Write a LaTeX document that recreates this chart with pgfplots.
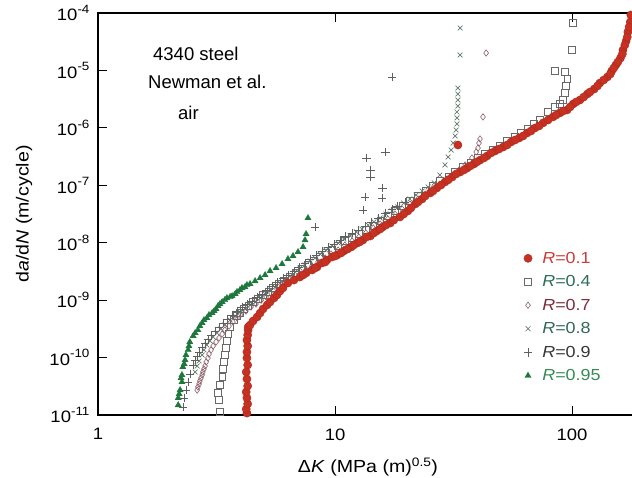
\documentclass[border=0pt]{standalone}
\usepackage{fontspec}
\setmainfont{Liberation Sans}
\newfontfamily\wide{Liberation Sans}[FakeStretch=1.12]
\usepackage{pgfplots}
\pgfplotsset{compat=1.18}
\newcommand\sci[1]{10\raisebox{0.45em}{\fontsize{12}{12}\selectfont #1}}
\definecolor{cRed}{RGB}{200,48,34}
\definecolor{cRedD}{RGB}{165,45,30}
\definecolor{cSq}{RGB}{105,105,105}
\definecolor{cDia}{RGB}{140,95,105}
\definecolor{cX}{RGB}{95,120,105}
\definecolor{cPlus}{RGB}{95,95,95}
\definecolor{cTri}{RGB}{30,120,60}
\definecolor{tRed}{RGB}{205,60,60}
\definecolor{tSq}{RGB}{45,110,90}
\definecolor{tDia}{RGB}{125,45,60}
\definecolor{tX}{RGB}{50,105,85}
\definecolor{tPlus}{RGB}{55,55,55}
\definecolor{tTri}{RGB}{55,140,85}
\pgfplotsset{
  sR1/.style={only marks, mark=*, mark size=4.1pt, mark options={fill=cRed, draw=cRedD, line width=0.4pt}},
  sR4/.style={only marks, mark=square, mark size=3.3pt, mark options={draw=cSq, line width=0.6pt}},
  sR7/.style={only marks, mark=diamond, mark size=3.2pt, mark options={draw=cDia, line width=0.6pt}},
  sR8/.style={only marks, mark=x, mark size=3.4pt, mark options={draw=cX, line width=0.7pt}},
  sR9/.style={only marks, mark=+, mark size=4.3pt, mark options={draw=cPlus, line width=0.6pt}},
  sR95/.style={only marks, mark=triangle*, mark size=3.6pt, mark options={fill=cTri, draw=cTri, line width=0.3pt}},
}
\begin{document}
\begin{tikzpicture}
\useasboundingbox (-98pt,-62pt) rectangle (534pt,415pt);
\begin{axis}[
  scale only axis, width=545.4pt, height=402pt,
  xmode=log, ymode=log,
  xmin=1, xmax=200, ymin=1e-11, ymax=1e-4,
  xtick={1,10,100}, xticklabels={1,10,100},
  ytick={1e-11,1e-10,1e-9,1e-8,1e-7,1e-6,1e-5,1e-4},
  yticklabels={\sci{-11},\sci{-10},\sci{-9},\sci{-8},\sci{-7},\sci{-6},\sci{-5},\sci{-4}},
  xminorticks=false, yminorticks=false,
  tick align=inside, major tick length=9.5pt,
  every tick/.style={black, line width=0.8pt},
  axis line style={line width=2.1pt},
  ticklabel style={font=\wide\fontsize{16.5}{20}\selectfont},
  xticklabel style={yshift=-10pt},
  yticklabel style={xshift=-5pt},
  xlabel={Δ\textit{K} (MPa (m)\textsuperscript{0.5})},
  ylabel={d\textit{a}/d\textit{N} (m/cycle)},
  every axis x label/.style={at={(rel axis cs:0.495,-0.1294)}, anchor=center},
  every axis y label/.style={at={(rel axis cs:-0.1357,0.5)}, rotate=90, anchor=center},
  label style={font=\wide\fontsize{17.5}{21}\selectfont},
  legend style={at={(rel axis cs:0.7747,0.416)}, anchor=north west, draw=none, fill=none,
    font=\wide\fontsize{16}{19}\selectfont, row sep=6.8pt},
  legend cell align=left,
]
\addlegendimage{sR1}\addlegendentry{\hspace*{8pt}\textcolor{tRed}{\textit{R}=0.1}}
\addlegendimage{sR4}\addlegendentry{\hspace*{8pt}\textcolor{tSq}{\textit{R}=0.4}}
\addlegendimage{sR7}\addlegendentry{\hspace*{8pt}\textcolor{tDia}{\textit{R}=0.7}}
\addlegendimage{sR8}\addlegendentry{\hspace*{8pt}\textcolor{tX}{\textit{R}=0.8}}
\addlegendimage{sR9}\addlegendentry{\hspace*{8pt}\textcolor{tPlus}{\textit{R}=0.9}}
\addlegendimage{sR95}\addlegendentry{\hspace*{8pt}\textcolor{tTri}{\textit{R}=0.95}}

% R = 0.4
\addplot[sR4, forget plot] coordinates {
(3.27,1.13e-11)(3.24,1.82e-11)(3.21,2.41e-11)(3.27,3.33e-11)(3.34,4.58e-11)(3.37,6.32e-11)
(3.40,8.38e-11)(3.43,1.11e-10)(3.47,1.47e-10)(3.50,1.95e-10)(3.54,2.57e-10)(3.61,3.40e-10)
(3.75,4.51e-10)(3.97,5.97e-10)(4.30,7.91e-10)(4.73,1.05e-9)(5.22,1.39e-9)(5.80,1.91e-9)
(6.46,2.53e-9)(7.26,3.48e-9)(8.15,4.80e-9)(9.16,6.62e-9)(10.3,8.77e-9)(11.8,1.21e-8)
(13.5,1.66e-8)(15.5,2.39e-8)(17.9,3.57e-8)(20.7,5.32e-8)(24.0,7.95e-8)(27.7,1.19e-7)
(32.1,1.70e-7)(37.2,2.44e-7)(42.9,3.51e-7)(49.7,4.83e-7)(57.4,6.93e-7)(65.2,9.55e-7)
(73.3,1.37e-6)(79.2,1.89e-6)(84.8,2.31e-6)(88.9,2.60e-6)(91.6,3.06e-6)(93.3,4.05e-6)
(94.3,5.35e-6)(95.3,7.10e-6)(93.3,9.40e-6)(84.8,9.77e-6)(100,2.27e-5)(101,6.70e-5)
(3.86,5.29e-10)(4.13,7.02e-10)(4.51,9.29e-10)(4.97,1.23e-9)(5.47,1.63e-9)(6.09,2.15e-9)
(6.84,2.96e-9)(7.69,4.09e-9)(8.65,5.64e-9)(9.71,7.46e-9)(11.0,1.07e-8)(12.6,1.42e-8)
(14.5,1.95e-8)(16.7,2.92e-8)(19.2,4.36e-8)(22.4,6.50e-8)(25.7,9.72e-8)(30.0,1.39e-7)
(34.4,2.08e-7)(40.1,2.99e-7)(46.0,4.11e-7)(53.2,5.90e-7)(60.9,8.14e-7)(69.1,1.17e-6)
};
% R = 0.7
\addplot[sR7, forget plot] coordinates {
(2.62,2.72e-11)(2.67,3.47e-11)(2.72,4.41e-11)(2.77,5.61e-11)(2.83,7.14e-11)(2.91,9.82e-11)
(3.00,1.36e-10)(3.15,1.87e-10)(3.34,2.57e-10)(3.57,3.55e-10)(3.86,4.89e-10)(4.21,6.47e-10)
(4.64,8.57e-10)(5.12,1.14e-9)(5.69,1.56e-9)(6.33,2.07e-9)(7.11,2.85e-9)(8.00,3.93e-9)
(9.08,5.42e-9)(10.3,7.46e-9)(11.8,1.07e-8)(13.5,1.48e-8)(15.5,2.12e-8)(17.9,3.16e-8)
(20.7,4.72e-8)(24.0,7.05e-8)(27.7,1.05e-7)(31.5,1.51e-7)(35.4,2.26e-7)(37.8,2.99e-7)
(39.4,3.80e-7)(40.1,4.46e-7)(40.5,5.45e-7)(40.9,6.40e-7)(42.1,1.55e-6)(43.4,2.01e-5)
(2.64,3.07e-11)(2.69,3.91e-11)(2.75,4.97e-11)(2.80,6.32e-11)(2.86,8.38e-11)(2.94,1.15e-10)
(3.06,1.59e-10)(3.24,2.19e-10)(3.43,3.02e-10)(3.71,4.16e-10)(4.01,5.74e-10)(4.42,7.60e-10)
(4.88,1.00e-9)(5.37,1.33e-9)(5.98,1.84e-9)(6.71,2.43e-9)(7.55,3.35e-9)(8.48,4.61e-9)
(9.62,6.35e-9)(11.0,9.12e-9)(12.6,1.26e-8)(14.5,1.80e-8)(16.7,2.59e-8)(19.2,3.86e-8)
(22.4,5.77e-8)(25.7,8.61e-8)(29.7,1.29e-7)(33.4,1.85e-7)
};
% R = 0.8
\addplot[sR8, forget plot] coordinates {
(2.57,5.61e-11)(2.67,8.72e-11)(2.80,1.36e-10)(2.97,1.95e-10)(3.18,2.68e-10)(3.43,3.69e-10)
(3.79,5.29e-10)(4.17,7.02e-10)(4.60,9.29e-10)(5.07,1.28e-9)(5.58,1.69e-9)(6.15,2.24e-9)
(6.78,3.09e-9)(7.47,4.09e-9)(8.24,5.42e-9)(9.16,7.46e-9)(10.3,9.89e-9)(11.6,1.31e-8)
(13.0,1.73e-8)(14.6,2.30e-8)(16.4,3.16e-8)(18.4,4.19e-8)(20.7,5.77e-8)(23.3,7.95e-8)
(26.2,1.10e-7)(27.7,1.51e-7)(29.1,2.26e-7)(30.0,3.11e-7)(30.9,4.11e-7)(31.5,5.45e-7)
(32.1,7.21e-7)(32.4,9.18e-7)(32.7,1.17e-6)(32.7,1.49e-6)(32.7,1.89e-6)(33.0,2.40e-6)
(33.0,3.06e-6)(33.0,3.89e-6)(33.0,4.94e-6)(33.7,1.86e-5)(33.7,5.48e-5)
(2.62,7.14e-11)(2.75,1.11e-10)(2.88,1.66e-10)(3.06,2.28e-10)(3.30,3.14e-10)(3.61,4.51e-10)
(3.97,6.21e-10)(4.38,8.22e-10)(4.83,1.09e-9)(5.32,1.50e-9)(5.86,1.99e-9)(6.46,2.63e-9)
(7.11,3.63e-9)(7.85,4.80e-9)(8.65,6.35e-9)(9.71,8.77e-9)(10.9,1.16e-8)(12.3,1.54e-8)
(13.8,2.03e-8)(15.5,2.69e-8)(17.4,3.57e-8)(19.5,4.91e-8)(22.0,6.77e-8)(24.7,9.33e-8)
};
% R = 0.9
\addplot[sR9, forget plot] coordinates {
(2.28,1.38e-11)(2.31,1.98e-11)(2.35,2.72e-11)(2.40,3.76e-11)(2.44,5.18e-11)(2.52,7.43e-11)
(2.62,1.06e-10)(2.75,1.53e-10)(2.91,2.10e-10)(3.12,2.90e-10)(3.37,4.00e-10)(3.68,5.51e-10)
(4.05,7.60e-10)(4.47,9.66e-10)(4.92,1.28e-9)(5.42,1.76e-9)(6.03,2.43e-9)(6.71,3.21e-9)
(7.47,4.43e-9)(8.32,6.11e-9)(9.34,8.42e-9)(10.5,1.11e-8)(11.8,1.48e-8)(13.4,1.95e-8)
(15.2,2.69e-8)(17.4,3.86e-8)(19.7,5.12e-8)
(2.57,9.08e-11)(2.67,1.25e-10)(2.83,1.79e-10)(3.00,2.47e-10)(3.24,3.40e-10)(3.50,4.70e-10)
(3.86,6.47e-10)(4.25,8.57e-10)(4.69,1.14e-9)(5.17,1.50e-9)(5.69,2.07e-9)(6.33,2.74e-9)
(7.05,3.78e-9)(7.85,5.20e-9)(8.81,7.18e-9)(9.90,9.50e-9)(11.1,1.31e-8)(12.5,1.66e-8)
(14.2,2.30e-8)(16.3,3.29e-8)(18.4,4.36e-8)
(8.24,1.88e-8)(13.1,3.72e-8)(13.4,6.25e-8)(15.8,6.01e-8)(15.9,8.97e-8)(14.1,1.39e-7)
(14.1,1.85e-7)(13.6,2.99e-7)(16.3,3.80e-7)(17.4,7.69e-6)
};
% R = 0.95
\addplot[sR95, forget plot] coordinates {
(2.18,1.49e-11)(2.18,1.98e-11)(2.22,2.72e-11)(2.26,3.76e-11)(2.26,4.98e-11)(2.28,6.86e-11)
(2.33,9.08e-11)(2.40,1.36e-10)(2.44,1.87e-10)(2.52,2.38e-10)(2.64,3.02e-10)(2.75,4.00e-10)
(2.88,4.89e-10)(3.03,5.97e-10)(3.15,7.02e-10)(3.27,8.57e-10)(3.43,1.01e-9)(3.61,1.14e-9)
(3.79,1.28e-9)(3.97,1.50e-9)(4.17,1.69e-9)(4.38,1.91e-9)(4.60,2.15e-9)(4.83,2.43e-9)
(5.07,2.74e-9)(5.32,3.22e-9)(5.64,3.63e-9)(5.98,4.26e-9)(6.33,5.21e-9)(6.65,5.87e-9)
(6.98,6.89e-9)(7.33,8.42e-9)(7.47,1.11e-8)(7.55,1.42e-8)(7.69,2.69e-8)
(2.20,2.32e-11)(2.24,4.41e-11)(2.31,7.73e-11)(2.35,1.11e-10)(2.42,1.59e-10)(2.57,2.68e-10)
(2.69,3.55e-10)(2.80,4.51e-10)(2.94,5.51e-10)(3.09,6.47e-10)(3.21,7.91e-10)(3.34,9.29e-10)
(3.50,1.09e-9)(3.68,1.18e-9)(3.86,1.39e-9)(4.05,1.63e-9)(4.25,1.84e-9)
};
% R = 0.1
\addplot[sR1, forget plot] coordinates {
(4.25,1.08e-11)(4.22,1.27e-11)(4.28,1.56e-11)(4.25,1.98e-11)(4.22,2.52e-11)(4.28,3.20e-11)
(4.25,4.24e-11)(4.22,5.61e-11)(4.28,7.43e-11)(4.25,9.84e-11)(4.25,1.25e-10)(4.28,1.59e-10)
(4.25,2.02e-10)(4.28,2.47e-10)(4.30,3.02e-10)(4.30,3.40e-10)
(4.38,3.69e-10)(4.51,4.34e-10)(4.69,5.09e-10)(4.83,5.97e-10)(4.97,7.02e-10)(5.17,8.24e-10)
(5.32,9.29e-10)(5.53,1.09e-9)(5.69,1.23e-9)(5.86,1.44e-9)(6.03,1.63e-9)(6.33,1.99e-9)
(6.71,2.24e-9)(7.11,2.53e-9)(7.55,2.97e-9)(8.00,3.35e-9)(8.40,3.78e-9)(8.81,4.44e-9)
(9.25,5.00e-9)(9.71,5.64e-9)(10.2,6.11e-9)(10.9,7.18e-9)(11.7,8.42e-9)(12.4,9.89e-9)
(13.1,1.11e-8)(14.1,1.31e-8)(15.0,1.60e-8)(15.9,1.88e-8)(17.1,2.20e-8)(18.8,2.81e-8)
(20.3,3.57e-8)(21.8,4.72e-8)(23.3,5.77e-8)(25.2,7.34e-8)(26.9,8.97e-8)(29.1,1.14e-7)
(31.2,1.39e-7)(33.7,1.70e-7)(36.1,2.00e-7)(38.6,2.35e-7)(40.9,2.75e-7)(43.8,3.24e-7)
(47.3,3.95e-7)(51.2,4.64e-7)(55.3,5.67e-7)(59.8,6.65e-7)(64.6,8.14e-7)(69.8,9.95e-7)
(75.5,1.22e-6)(83.1,1.55e-6)(88.9,1.82e-6)(95.3,2.05e-6)(101,2.60e-6)(108,3.06e-6)
(116,3.89e-6)(124,4.75e-6)(131,6.04e-6)(141,7.69e-6)(147,9.77e-6)(153,1.24e-5)
(160,1.64e-5)(164,2.27e-5)(169,3.25e-5)(172,4.67e-5)(176,6.97e-5)(177,9.23e-5)
(7.33,2.74e-9)(8.24,3.63e-9)(9.08,4.61e-9)(10.0,5.87e-9)(10.6,6.62e-9)(11.3,7.77e-9)
(12.0,9.12e-9)(12.7,1.03e-8)(13.6,1.26e-8)(14.6,1.48e-8)(15.5,1.73e-8)(16.4,2.03e-8)
(17.7,2.48e-8)(19.5,3.16e-8)(20.9,4.02e-8)(22.4,5.12e-8)(24.0,6.50e-8)(25.9,7.95e-8)
(28.0,1.01e-7)(30.0,1.24e-7)(32.4,1.57e-7)(35.0,1.85e-7)(37.2,2.17e-7)(39.7,2.55e-7)
(42.5,2.99e-7)(45.5,3.65e-7)(49.2,4.28e-7)(53.2,5.03e-7)(57.5,6.15e-7)(62.1,7.21e-7)
(67.1,8.81e-7)(72.6,1.08e-6)(79.2,1.37e-6)(85.6,1.67e-6)(91.6,1.96e-6)(98.1,2.31e-6)
(104,2.82e-6)(112,3.44e-6)(119,4.21e-6)(128,5.36e-6)(136,6.81e-6)(145,8.67e-6)
(150,1.10e-5)(156,1.40e-5)(163,1.93e-5)(167,2.77e-5)(171,3.82e-5)(174,5.70e-5)
(33.0,5.03e-7)
};

\node[anchor=base west, inner sep=0pt, font=\fontsize{18.5}{22}\selectfont] at (rel axis cs:0.1008,0.883) {4340 steel};
\node[anchor=base west, inner sep=0pt, font=\fontsize{18.5}{22}\selectfont] at (rel axis cs:0.0917,0.811) {Newman et al.};
\node[anchor=base west, inner sep=0pt, font=\fontsize{18.5}{22}\selectfont] at (rel axis cs:0.1467,0.736) {air};
\end{axis}
\end{tikzpicture}
\end{document}
